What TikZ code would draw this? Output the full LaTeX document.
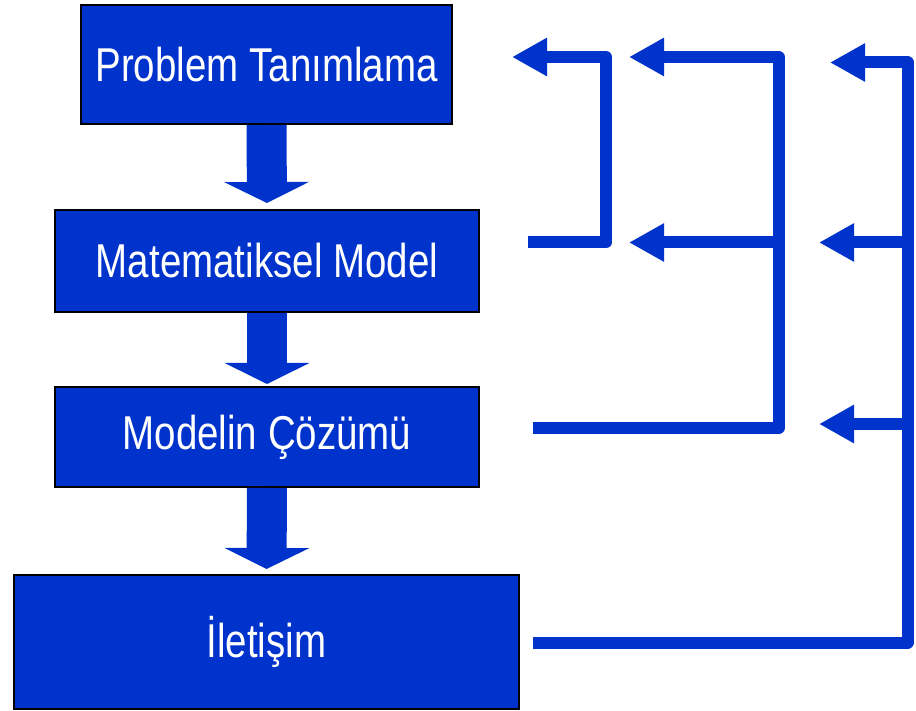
\documentclass[tikz,border=0pt]{standalone}
\usepackage{fontspec}
\usepackage{xcolor}
\usepackage{tikz}
\usetikzlibrary{arrows.meta,positioning}
\newfontfamily\kutufont[FakeStretch=0.81]{Liberation Sans}
\definecolor{koyumavi}{RGB}{0,51,204}
\tikzset{
	kutu/.style={draw=black,line width=2pt,fill=koyumavi,text=white,inner sep=0pt,
		font=\kutufont\fontsize{47.5}{50}\selectfont},
	asagiok/.style={draw=koyumavi,line width=40pt,-{Triangle[length=21pt,width=84pt]}},
	geriok/.style={draw=koyumavi,line width=12pt,line join=round,-{Triangle[length=35pt,width=36pt]}},
	geriyol/.style={draw=koyumavi,line width=12pt,line join=round}
}
\begin{document}
\begin{tikzpicture}[x=1pt,y=-1pt]
		\useasboundingbox (0,0) rectangle (916,711);
		\node[kutu,minimum width=371pt,minimum height=119pt] (tanim) at (266.5,64.5) {Problem Tanımlama};
		\node[kutu,minimum width=424pt,minimum height=102pt] (model) at (267,261) {Matematiksel Model};
		\node[kutu,minimum width=424pt,minimum height=100pt] (cozum) at (267,437) {Modelin Çözümü};
		\node[kutu,minimum width=505pt,minimum height=134pt] (iletisim) at (266.5,642) {İletişim};
		\draw[asagiok,shorten >=6pt] (tanim.south) -- (model.north);
		\draw[asagiok,shorten >=2pt] (model.south) -- (cozum.north);
		\draw[asagiok,shorten >=5pt] (cozum.south) -- (iletisim.north);
		\coordinate (m1) at (528,242.5);
		\coordinate (k1) at (606,57);
		\coordinate (u1) at (512,57);
		\draw[geriok] (m1) -| (k1) -- (u1);
		\coordinate (c2) at (533,428);
		\coordinate (k2) at (778.5,57);
		\coordinate (u2) at (629,57);
		\coordinate (d2) at (778.5,242.5);
		\coordinate (v2) at (629,242.5);
		\draw[geriok] (c2) -| (k2) -- (u2);
		\draw[geriok] (d2) -- (v2);
		\coordinate (i3) at (533,642.5);
		\coordinate (k3) at (907.5,62.5);
		\coordinate (u3) at (830,62.5);
		\coordinate (d3) at (907.5,242.5);
		\coordinate (v3) at (819,242.5);
		\coordinate (e3) at (907.5,424);
		\coordinate (w3) at (819,424);
		\draw[geriok] (i3) -| (k3) -- (u3);
		\draw[geriok] (d3) -- (v3);
		\draw[geriok] (e3) -- (w3);
	\end{tikzpicture}
\end{document}
